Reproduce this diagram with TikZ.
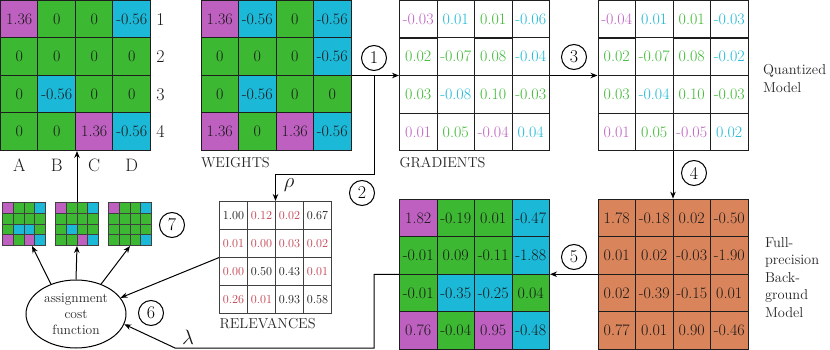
\documentclass[tikz,border=0pt]{standalone}
\usepackage{fontspec}
\usepackage{amsmath}
\usetikzlibrary{matrix, shapes.geometric, arrows.meta, positioning, calc}
\definecolor{wpur}{HTML}{BE60C0}
\definecolor{wgrn}{HTML}{3CB832}
\definecolor{wcyn}{HTML}{1CB8D8}
\definecolor{worg}{HTML}{D9845A}
\definecolor{rred}{HTML}{C44050}
\definecolor{edge}{HTML}{1E1E1E}
\newcommand{\fsz}[2]{\fontsize{#1}{#2}\selectfont}

\begin{document}
\begin{tikzpicture}[x=1pt,y=-1pt,line width=1pt,
  wmat/.style={matrix of nodes, nodes in empty cells, column sep=-1pt, row sep=-1pt, inner sep=0pt, outer sep=0pt,
    nodes={draw=edge, fill=wgrn, minimum size=37.5pt, inner sep=0pt, text=black!90, font=\fsz{16}{19}}},
  gmat/.style={wmat, nodes={fill=white, text=wgrn}}, omat/.style={wmat, nodes={fill=worg}},
  rmat/.style={wmat, nodes={fill=white, draw=black!75, minimum size=28pt, font=\fsz{12.2}{14}}},
  smat/.style={wmat, column sep=-1pt, row sep=-1pt, nodes={draw=black!75, minimum size=10.75pt}},
  wp/.style={fill=wpur}, wc/.style={fill=wcyn}, tp/.style={text=wpur}, tc/.style={text=wcyn}, tr/.style={text=rred},
  numc/.style={circle, draw, minimum size=25pt, inner sep=0pt, font=\fsz{18}{21}},
  lbl/.style={inner sep=0pt, text=black!90, font=\fsz{18}{21}},
  caps/.style={inner sep=0pt, text=black!85, align=left, font=\fsz{14.4}{17.5}},
  arrow/.style={-{Stealth[length=7pt,width=5.5pt]}}]
\useasboundingbox (0,0) rectangle (830,350);

% top row
\matrix (asgn) [wmat, anchor=north west] at (0,0) {
  |[wp]| 1.36 & 0 & 0 & |[wc]| -0.56 \\
  0 & 0 & 0 & 0 \\
  0 & |[wc]| -0.56 & 0 & 0 \\
  0 & 0 & |[wp]| 1.36 & |[wc]| -0.56 \\};
\matrix (wts) [wmat, right=49.5pt of asgn] {
  |[wp]| 1.36 & |[wc]| -0.56 & 0 & |[wc]| -0.56 \\
  0 & 0 & 0 & |[wc]| -0.56 \\
  0 & |[wc]| -0.56 & 0 & 0 \\
  |[wp]| 1.36 & 0 & |[wp]| 1.36 & |[wc]| -0.56 \\};
\matrix (grd) [gmat, right=47.5pt of wts] {
  |[tp]| -0.03 & |[tc]| 0.01 & 0.01 & |[tc]| -0.06 \\
  0.02 & -0.07 & 0.08 & |[tc]| -0.04 \\
  0.03 & |[tc]| -0.08 & 0.10 & -0.03 \\
  |[tp]| 0.01 & 0.05 & |[tp]| -0.04 & |[tc]| 0.04 \\};
\matrix (qnt) [gmat, right=47.5pt of grd] {
  |[tp]| -0.04 & |[tc]| 0.01 & 0.01 & |[tc]| -0.03 \\
  0.02 & -0.07 & 0.08 & |[tc]| -0.02 \\
  0.03 & |[tc]| -0.04 & 0.10 & -0.03 \\
  |[tp]| 0.01 & 0.05 & |[tp]| -0.05 & |[tc]| 0.02 \\};

% bottom row
\matrix (fpm) [omat, below=47.5pt of qnt] {
  1.78 & -0.18 & 0.02 & -0.50 \\
  0.01 & 0.02 & -0.03 & -1.90 \\
  0.02 & -0.39 & -0.15 & 0.01 \\
  0.77 & 0.01 & 0.90 & -0.46 \\};
\matrix (upd) [wmat, left=47.5pt of fpm] {
  |[wp]| 1.82 & -0.19 & 0.01 & |[wc]| -0.47 \\
  -0.01 & 0.09 & -0.11 & |[wc]| -1.88 \\
  -0.01 & |[wc]| -0.35 & |[wc]| -0.25 & 0.04 \\
  |[wp]| 0.76 & -0.04 & |[wp]| 0.95 & |[wc]| -0.48 \\};
\matrix (rel) [rmat, anchor=north west] at (219,201) {
  1.00 & |[tr]| 0.12 & |[tr]| 0.02 & 0.67 \\
  |[tr]| 0.01 & |[tr]| 0.00 & |[tr]| 0.03 & |[tr]| 0.02 \\
  |[tr]| 0.00 & 0.50 & 0.43 & |[tr]| 0.01 \\
  |[tr]| 0.26 & |[tr]| 0.01 & 0.93 & 0.58 \\};

% candidate assignments
\matrix (cnd1) [smat, anchor=north west] at (2,202) {
  |[wp]| & & & |[wc]| \\ & & & \\ & |[wc]| & |[wc]| & \\ |[wp]| & & |[wp]| & |[wc]| \\};
\matrix (cnd2) [smat, right=9pt of cnd1] {
  |[wp]| & & & |[wc]| \\ & & & \\ & |[wc]| & & \\ & & |[wp]| & |[wc]| \\};
\matrix (cnd3) [smat, right=9pt of cnd2] {
  |[wp]| & & & |[wc]| \\ & & & \\ & & & \\ & & & |[wc]| \\};
\node (cost) [ellipse, draw, minimum width=100pt, minimum height=68pt, inner sep=0pt, align=center, text=black!85, font=\fsz{13.5}{16}] at (76,314) {assignment\\cost\\function};

% labels
\foreach \r [count=\i] in {1,2,3,4} \node (row\i) [lbl] at ($(asgn-\i-4.east)+(10,0)$) {\r};
\foreach \c [count=\i] in {A,B,C,D} \node (col\i) [lbl] at ($(asgn-4-\i.south)+(0,15)$) {\c};
\node (wlab) [caps, below right=6pt and 0pt of wts.south west] {WEIGHTS};
\node (glab) [caps, below right=6pt and 0pt of grd.south west] {GRADIENTS};
\node (rlab) [caps, below right=4pt and 0pt of rel.south west] {RELEVANCES};
\node (qlab) [caps, right=14pt of qnt, yshift=-3pt] {Quantized\\Model};
\node (flab) [caps, right=16pt of fpm, yshift=-3pt] {Full-\\precision\\Back-\\ground\\Model};
\node (rho) [lbl, font=\fsz{22}{24}] at (289,185) {$\rho$};
\node (lam) [lbl, font=\fsz{22}{24}] at (188,337) {$\lambda$};

% steps
\node (n1) [numc] at (374,58) {1};\node (n2) [numc] at (362,193) {2};\node (n3) [numc] at (574,57) {3};
\node (n4) [numc] at (694,173) {4};\node (n5) [numc] at (574,257) {5};\node (n6) [numc] at (151,313) {6};
\node (n7) [numc] at (172,225) {7};

% connectors
\coordinate (br) at ($(wts.east)!0.48!(grd.west)$);\coordinate (lk) at (175,348);
\draw [arrow] (wts) -- (grd);\draw [arrow] (br) -- ++(0,99) -| (rel.north);
\draw [arrow] (grd) -- (qnt);\draw [arrow] (qnt) -- (fpm);\draw [arrow] (fpm) -- (upd);
\draw [arrow] (upd.west) -- ++(-25,0) |- (lk) -- (cost.-12);\draw [arrow] (rel.west) -- (cost.20);
\draw [arrow] (cost.130) -- (cnd1.-70);\draw [arrow] (cost.north) -- (cnd2.south);\draw [arrow] (cost.50) -- (cnd3.south);
\draw [arrow] (cnd2.north) -- (cnd2.north |- asgn.south);
\end{tikzpicture}
\end{document}
